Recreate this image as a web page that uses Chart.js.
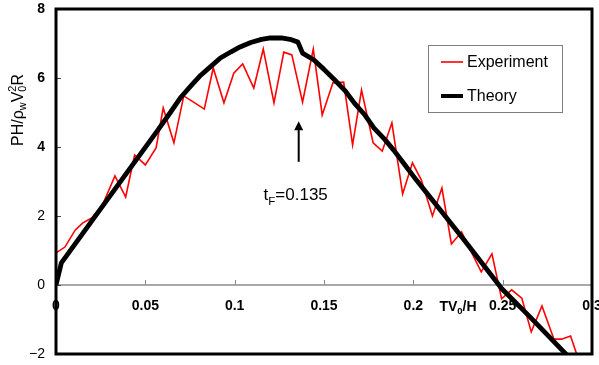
<!DOCTYPE html>
<html>
<head>
<meta charset="utf-8">
<script src="https://cdn.jsdelivr.net/npm/chart.js@4/dist/chart.umd.min.js"></script>
<style>
  html, body { margin: 0; padding: 0; background: #fff; }
</style>
</head>
<body>
<canvas id="pressureChart" width="599" height="365"></canvas>
<script>
// values
const expX = [0, 0.005, 0.0107, 0.015, 0.020, 0.026, 0.033, 0.039, 0.044, 0.050,
              0.056, 0.060, 0.066, 0.0715, 0.077, 0.083, 0.088, 0.094, 0.0995, 0.1045,
              0.1107, 0.116, 0.122, 0.1275, 0.132, 0.138, 0.144, 0.149, 0.155, 0.161,
              0.166, 0.171, 0.1775, 0.1826, 0.188, 0.194, 0.1995, 0.2045, 0.2107, 0.216,
              0.2213, 0.227, 0.2325, 0.238, 0.244, 0.2494, 0.255, 0.2607, 0.266, 0.272,
              0.2787, 0.283, 0.288, 0.2916];
const expY = [0.93, 1.10, 1.59, 1.80, 1.94, 2.32, 3.16, 2.55, 3.77, 3.48,
              3.97, 5.13, 4.12, 5.48, 5.30, 5.10, 6.29, 5.28, 6.14, 6.41,
              5.71, 6.84, 5.28, 6.75, 6.67, 5.30, 6.84, 4.93, 5.86, 5.88,
              4.06, 5.65, 4.12, 3.88, 4.70, 2.64, 3.54, 3.04, 2.00, 2.81,
              1.19, 1.54, 0.95, 0.38, 0.90, -0.40, -0.14, -0.38, -1.36, -0.61,
              -1.57, -1.57, -1.48, -2.03];

const theoryX = [0, 0.003, 0.057, 0.064, 0.070, 0.076, 0.081, 0.087, 0.092, 0.098,
                 0.103, 0.109, 0.115, 0.120, 0.126, 0.131, 0.1354, 0.138, 0.1444, 0.150,
                 0.156, 0.162, 0.167, 0.173, 0.178, 0.184, 0.189, 0.195, 0.2017, 0.215,
                 0.228, 0.2494, 0.265, 0.2848, 0.292];
const theoryY = [0, 0.64, 4.49, 5.00, 5.45, 5.80, 6.08, 6.35, 6.58, 6.76,
                 6.90, 7.03, 7.12, 7.16, 7.16, 7.12, 7.04, 6.72, 6.52, 6.25,
                 5.94, 5.62, 5.27, 4.92, 4.55, 4.22, 3.91, 3.50, 3.04, 2.18,
                 1.33, -0.10, -0.91, -1.97, -2.38];

const seriesNames = ['Experiment', 'Theory'];
const xTicks = [0, 0.05, 0.1, 0.15, 0.2, 0.25, 0.3];
const yTicks = [-2, 0, 2, 4, 6, 8];
const tF = 0.135;

const FONT = 'Arial, "Liberation Sans", sans-serif';

function toPoints(xs, ys) {
    return xs.map((x, i) => ({ x: x, y: ys[i] }));
}

// text with subscripts / superscripts; returns width
function richText(ctx, parts, x, y, size, weight, draw) {
    let cx = x, lastX = x;
    parts.forEach(([t, kind]) => {
        const fs = kind ? size * 0.68 : size;
        ctx.font = `${weight} ${fs}px ${FONT}`;
        const w = ctx.measureText(t).width;
        let dy = 0;
        if (kind === 'sub') dy = size * 0.28;
        if (kind === 'sup') dy = -size * 0.38;
        const startX = kind === 'sup' ? lastX : cx;
        if (draw) ctx.fillText(t, startX, y + dy);
        lastX = startX;
        cx = Math.max(cx, startX + w);
    });
    return cx - x;
}

function noScalePadding(s) {
    s.paddingLeft = 0;
    s.paddingRight = 0;
    s.paddingTop = 0;
    s.paddingBottom = 0;
}

const extrasPlugin = {
    id: 'extras',
    afterDatasetsDraw(chart) {
        const { ctx, chartArea: a, scales: { x, y } } = chart;
        ctx.save();

        // small ticks on the zero line
        const y0 = y.getPixelForValue(0);
        ctx.strokeStyle = '#8a8a8a';
        ctx.lineWidth = 1;
        xTicks.slice(1, -1).forEach(v => {
            const px = Math.round(x.getPixelForValue(v)) + 0.5;
            ctx.beginPath();
            ctx.moveTo(px, y0);
            ctx.lineTo(px, y0 - 5);
            ctx.stroke();
        });
        // ticks on the left axis
        ctx.strokeStyle = '#444';
        yTicks.slice(1, -1).forEach(v => {
            const py = Math.round(y.getPixelForValue(v)) + 0.5;
            ctx.beginPath();
            ctx.moveTo(a.left, py);
            ctx.lineTo(a.left + 5, py);
            ctx.stroke();
        });

        // frame
        ctx.strokeStyle = '#000';
        ctx.lineWidth = 3;
        ctx.strokeRect(a.left, a.top, a.right - a.left, a.bottom - a.top);

        // arrow at tF
        const ax = x.getPixelForValue(tF) + 1.5;
        const tail = y.getPixelForValue(3.57);
        const tip = y.getPixelForValue(4.75);
        ctx.lineWidth = 2;
        ctx.beginPath();
        ctx.moveTo(ax, tail);
        ctx.lineTo(ax, tip + 6);
        ctx.stroke();
        ctx.fillStyle = '#000';
        ctx.beginPath();
        ctx.moveTo(ax, tip);
        ctx.lineTo(ax - 4.5, tip + 9);
        ctx.lineTo(ax + 4.5, tip + 9);
        ctx.closePath();
        ctx.fill();

        ctx.textBaseline = 'alphabetic';
        ctx.textAlign = 'left';
        const tParts = [['t', ''], ['F', 'sub'], ['=0.135', '']];
        const tw = richText(ctx, tParts, 0, 0, 17, 'normal', false);
        richText(ctx, tParts, ax - 3 - tw / 2, y.getPixelForValue(2.45), 17, 'normal', true);

        // x axis title
        ctx.textBaseline = 'middle';
        richText(ctx, [['TV', ''], ['0', 'sub'], ['/H', '']],
            x.getPixelForValue(0.2146), y.getPixelForValue(-0.64), 14, 'bold', true);

        // y axis title
        const yParts = [['PH/ρ', ''], ['w', 'sub'], ['V', ''], ['0', 'sub'], ['2', 'sup'], ['R', '']];
        const yw = richText(ctx, yParts, 0, 0, 16, 'normal', false);
        ctx.save();
        ctx.translate(19, 110);
        ctx.rotate(-Math.PI / 2);
        richText(ctx, yParts, -yw / 2, 0, 16, 'normal', true);
        ctx.restore();

        // legend box
        ctx.fillStyle = '#fff';
        ctx.fillRect(428, 45, 134, 67);
        ctx.strokeStyle = '#7f7f7f';
        ctx.lineWidth = 1;
        ctx.strokeRect(428.5, 45.5, 134, 67);
        const rows = [62, 96];
        chart.data.datasets.forEach((ds, i) => {
            ctx.strokeStyle = ds.borderColor;
            ctx.lineWidth = i === 0 ? 1.6 : 4;
            ctx.beginPath();
            ctx.moveTo(441, rows[i]);
            ctx.lineTo(463, rows[i]);
            ctx.stroke();
            ctx.fillStyle = '#000';
            ctx.font = `16px ${FONT}`;
            ctx.fillText(ds.label, 467, rows[i] + 1);
        });

        ctx.restore();
    }
};

const ctx = document.getElementById('pressureChart').getContext('2d');
new Chart(ctx, {
    type: 'scatter',
    data: {
        datasets: [
            {
                label: seriesNames[0],
                data: toPoints(expX, expY),
                showLine: true,
                borderColor: '#ff0000',
                borderWidth: 1.6,
                pointRadius: 0,
                tension: 0,
                order: 1
            },
            {
                label: seriesNames[1],
                data: toPoints(theoryX, theoryY),
                showLine: true,
                borderColor: '#000000',
                borderWidth: 4.8,
                borderJoinStyle: 'round',
                pointRadius: 0,
                tension: 0,
                order: 0
            }
        ]
    },
    options: {
        responsive: false,
        animation: false,
        devicePixelRatio: 1,
        layout: { padding: { top: 9, right: 7, bottom: 11, left: 0 } },
        plugins: {
            legend: { display: false },
            tooltip: { enabled: false }
        },
        scales: {
            x: {
                type: 'linear',
                position: { y: 0 },
                min: 0,
                max: 0.3,
                afterBuildTicks: s => { s.ticks = xTicks.map(v => ({ value: v })); },
                afterFit: noScalePadding,
                ticks: {
                    autoSkip: false,
                    maxRotation: 0,
                    padding: 13,
                    color: '#000',
                    font: { family: FONT, size: 14, weight: 'bold' },
                    callback: v => String(+v.toFixed(2))
                },
                grid: { display: false, drawTicks: false },
                border: { color: '#a8a8a8', width: 2 }
            },
            y: {
                min: -2,
                max: 8,
                afterBuildTicks: s => { s.ticks = yTicks.map(v => ({ value: v })); },
                afterFit: s => { s.width = 56; noScalePadding(s); },
                ticks: {
                    padding: 11,
                    color: '#000',
                    font: c => ({ family: FONT, size: 14, weight: c.tick && c.tick.value >= 4 ? 'bold' : 'normal' }),
                    callback: v => String(v).replace('-', '\u2212')
                },
                grid: { display: false, drawTicks: false },
                border: { display: false }
            }
        }
    },
    plugins: [extrasPlugin]
});
</script>
</body>
</html>
